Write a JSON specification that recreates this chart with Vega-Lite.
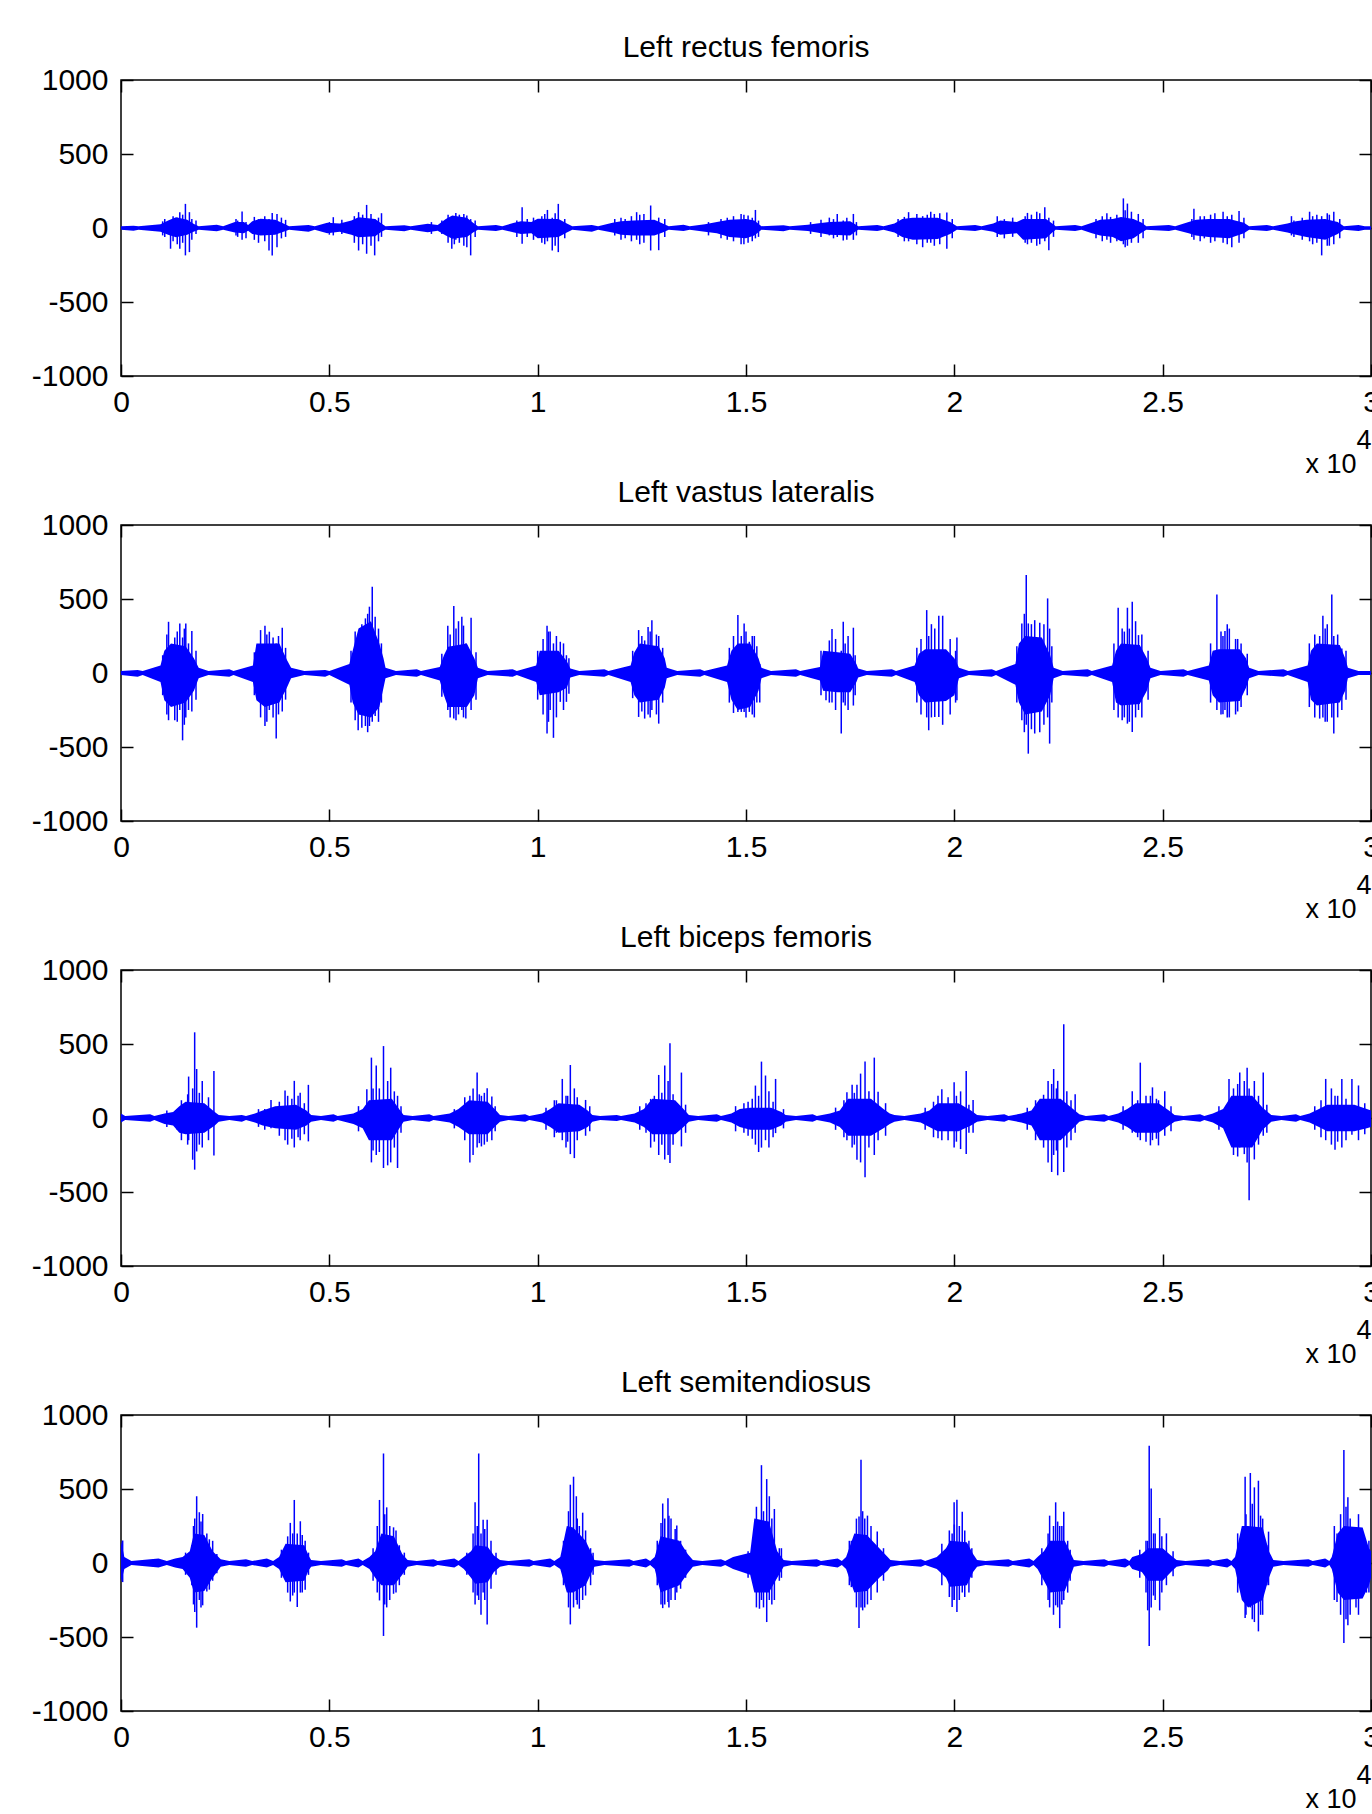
{
"$schema": "https://vega.github.io/schema/vega-lite/v6.json",
"padding": {"left": 30, "top": 32, "right": 0, "bottom": 0},
"background": "white",
"spacing": -1,
"config": {
  "font": "Liberation Sans",
  "view": {"stroke": "#000", "strokeWidth": 1.5},
  "axis": {"domain": false, "grid": false, "tickSize": -12, "tickColor": "#000", "tickWidth": 1.5, "labelFontSize": 30, "labelColor": "#000", "labelFont": "Liberation Sans", "labelFlush": false, "labelOverlap": false, "labelBound": false},
  "title": {"fontSize": 30, "fontWeight": "normal", "color": "#000", "font": "Liberation Sans", "anchor": "middle", "baseline": "alphabetic", "offset": 2}
},
"datasets": {
"a1": [{"t":0,"lo":-12,"hi":12},{"t":300,"lo":-18,"hi":16},{"t":420,"lo":-12,"hi":12},{"t":948,"lo":-25,"hi":25},{"t":1130,"lo":-45,"hi":50},{"t":1320,"lo":-62,"hi":73},{"t":1590,"lo":-45,"hi":55},{"t":1740,"lo":-25,"hi":28},{"t":1864,"lo":-12,"hi":12},{"t":2300,"lo":-22,"hi":22},{"t":2450,"lo":-12,"hi":12},{"t":2732,"lo":-30,"hi":40},{"t":2950,"lo":-35,"hi":40},{"t":3050,"lo":-18,"hi":20},{"t":3150,"lo":-40,"hi":45},{"t":3350,"lo":-50,"hi":62},{"t":3700,"lo":-45,"hi":55},{"t":3900,"lo":-25,"hi":30},{"t":4034,"lo":-12,"hi":12},{"t":4500,"lo":-25,"hi":20},{"t":4650,"lo":-12,"hi":12},{"t":4950,"lo":-35,"hi":35},{"t":5250,"lo":-25,"hi":30},{"t":5530,"lo":-45,"hi":50},{"t":5700,"lo":-62,"hi":73},{"t":6100,"lo":-55,"hi":60},{"t":6250,"lo":-25,"hi":30},{"t":6348,"lo":-12,"hi":12},{"t":6800,"lo":-22,"hi":18},{"t":6950,"lo":-12,"hi":12},{"t":7361,"lo":-28,"hi":28},{"t":7600,"lo":-18,"hi":20},{"t":7795,"lo":-50,"hi":60},{"t":7950,"lo":-73,"hi":84},{"t":8300,"lo":-60,"hi":70},{"t":8450,"lo":-30,"hi":35},{"t":8566,"lo":-12,"hi":12},{"t":9000,"lo":-20,"hi":20},{"t":9150,"lo":-12,"hi":12},{"t":9434,"lo":-30,"hi":35},{"t":9600,"lo":-40,"hi":45},{"t":9850,"lo":-35,"hi":40},{"t":10000,"lo":-70,"hi":62},{"t":10500,"lo":-60,"hi":60},{"t":10700,"lo":-30,"hi":30},{"t":10832,"lo":-12,"hi":12},{"t":11300,"lo":-25,"hi":20},{"t":11450,"lo":-12,"hi":12},{"t":11796,"lo":-30,"hi":35},{"t":12000,"lo":-45,"hi":45},{"t":12300,"lo":-50,"hi":50},{"t":12800,"lo":-50,"hi":55},{"t":13000,"lo":-30,"hi":30},{"t":13146,"lo":-12,"hi":12},{"t":13500,"lo":-20,"hi":22},{"t":13650,"lo":-12,"hi":12},{"t":14014,"lo":-25,"hi":25},{"t":14300,"lo":-35,"hi":40},{"t":14600,"lo":-60,"hi":55},{"t":15000,"lo":-70,"hi":60},{"t":15200,"lo":-50,"hi":50},{"t":15371,"lo":-12,"hi":12},{"t":15900,"lo":-22,"hi":18},{"t":16050,"lo":-12,"hi":12},{"t":16483,"lo":-20,"hi":22},{"t":16700,"lo":-30,"hi":30},{"t":17000,"lo":-45,"hi":40},{"t":17500,"lo":-50,"hi":45},{"t":17620,"lo":-25,"hi":25},{"t":17692,"lo":-12,"hi":12},{"t":18150,"lo":-20,"hi":20},{"t":18300,"lo":-12,"hi":12},{"t":18563,"lo":-30,"hi":30},{"t":18750,"lo":-60,"hi":60},{"t":19000,"lo":-80,"hi":70},{"t":19600,"lo":-75,"hi":70},{"t":19900,"lo":-40,"hi":40},{"t":20062,"lo":-12,"hi":12},{"t":20500,"lo":-20,"hi":20},{"t":20650,"lo":-12,"hi":12},{"t":20933,"lo":-25,"hi":30},{"t":21100,"lo":-45,"hi":50},{"t":21500,"lo":-35,"hi":40},{"t":21650,"lo":-80,"hi":60},{"t":22200,"lo":-70,"hi":60},{"t":22350,"lo":-30,"hi":30},{"t":22432,"lo":-12,"hi":12},{"t":22900,"lo":-20,"hi":20},{"t":23050,"lo":-12,"hi":12},{"t":23303,"lo":-35,"hi":35},{"t":23500,"lo":-50,"hi":55},{"t":23800,"lo":-60,"hi":60},{"t":24000,"lo":-90,"hi":75},{"t":24300,"lo":-70,"hi":60},{"t":24500,"lo":-30,"hi":35},{"t":24609,"lo":-12,"hi":12},{"t":25150,"lo":-20,"hi":20},{"t":25300,"lo":-12,"hi":12},{"t":25624,"lo":-35,"hi":40},{"t":25800,"lo":-50,"hi":55},{"t":26100,"lo":-60,"hi":60},{"t":26600,"lo":-70,"hi":60},{"t":26950,"lo":-35,"hi":35},{"t":27075,"lo":-12,"hi":12},{"t":27500,"lo":-20,"hi":20},{"t":27650,"lo":-12,"hi":12},{"t":27994,"lo":-30,"hi":30},{"t":28200,"lo":-45,"hi":45},{"t":28450,"lo":-60,"hi":55},{"t":28900,"lo":-80,"hi":60},{"t":29200,"lo":-40,"hi":40},{"t":29349,"lo":-12,"hi":12},{"t":29700,"lo":-20,"hi":20},{"t":29850,"lo":-12,"hi":12},{"t":30000,"lo":-12,"hi":12}],
"s1": [{"t":1050,"lo":-60,"hi":60},{"t":1189,"lo":-140,"hi":40},{"t":1411,"lo":-140,"hi":107},{"t":1480,"lo":-100,"hi":90},{"t":1546,"lo":-185,"hi":163},{"t":1642,"lo":-163,"hi":107},{"t":2800,"lo":-60,"hi":50},{"t":2906,"lo":-80,"hi":111},{"t":3450,"lo":-90,"hi":80},{"t":3552,"lo":-152,"hi":60},{"t":3629,"lo":-185,"hi":102},{"t":3744,"lo":-130,"hi":95},{"t":3850,"lo":-70,"hi":70},{"t":5095,"lo":-50,"hi":73},{"t":5702,"lo":-152,"hi":107},{"t":5800,"lo":-110,"hi":90},{"t":5895,"lo":-174,"hi":156},{"t":6088,"lo":-185,"hi":60},{"t":6252,"lo":-60,"hi":100},{"t":7450,"lo":-40,"hi":40},{"t":7939,"lo":-140,"hi":70},{"t":8036,"lo":-80,"hi":102},{"t":8120,"lo":-100,"hi":90},{"t":8228,"lo":-120,"hi":95},{"t":8392,"lo":-185,"hi":60},{"t":9627,"lo":-107,"hi":140},{"t":9750,"lo":-60,"hi":60},{"t":10100,"lo":-100,"hi":80},{"t":10234,"lo":-90,"hi":122},{"t":10350,"lo":-152,"hi":70},{"t":10495,"lo":-163,"hi":163},{"t":12100,"lo":-70,"hi":60},{"t":12375,"lo":-80,"hi":107},{"t":12550,"lo":-100,"hi":95},{"t":12712,"lo":-152,"hi":152},{"t":12905,"lo":-150,"hi":70},{"t":14700,"lo":-90,"hi":80},{"t":14882,"lo":-110,"hi":95},{"t":15050,"lo":-100,"hi":85},{"t":15226,"lo":-70,"hi":122},{"t":17000,"lo":-50,"hi":70},{"t":17190,"lo":-60,"hi":95},{"t":17334,"lo":-85,"hi":50},{"t":17577,"lo":-80,"hi":95},{"t":18902,"lo":-90,"hi":107},{"t":19100,"lo":-110,"hi":95},{"t":19240,"lo":-130,"hi":80},{"t":19434,"lo":-100,"hi":110},{"t":19650,"lo":-110,"hi":100},{"t":19820,"lo":-140,"hi":105},{"t":21030,"lo":-60,"hi":80},{"t":21755,"lo":-110,"hi":102},{"t":21850,"lo":-100,"hi":90},{"t":21978,"lo":-120,"hi":110},{"t":22171,"lo":-90,"hi":140},{"t":22268,"lo":-150,"hi":70},{"t":23661,"lo":-80,"hi":100},{"t":23900,"lo":-90,"hi":90},{"t":24057,"lo":-110,"hi":200},{"t":24154,"lo":-120,"hi":165},{"t":24250,"lo":-100,"hi":110},{"t":24415,"lo":-100,"hi":95},{"t":25750,"lo":-80,"hi":130},{"t":26000,"lo":-70,"hi":80},{"t":26253,"lo":-90,"hi":100},{"t":26450,"lo":-100,"hi":110},{"t":26659,"lo":-130,"hi":90},{"t":26833,"lo":-100,"hi":115},{"t":28091,"lo":-50,"hi":80},{"t":28526,"lo":-90,"hi":110},{"t":28700,"lo":-100,"hi":90},{"t":28816,"lo":-185,"hi":80},{"t":28950,"lo":-120,"hi":100},{"t":29107,"lo":-110,"hi":110},
{"t":1000,"lo":-50,"hi":45},{"t":1250,"lo":-90,"hi":80},{"t":1350,"lo":-110,"hi":70},{"t":1700,"lo":-80,"hi":60},{"t":1800,"lo":-40,"hi":50},{"t":2760,"lo":-50,"hi":60},{"t":3000,"lo":-70,"hi":40},{"t":3200,"lo":-80,"hi":75},{"t":3300,"lo":-100,"hi":60},{"t":3950,"lo":-60,"hi":55},{"t":5000,"lo":-45,"hi":40},{"t":5300,"lo":-40,"hi":55},{"t":5600,"lo":-100,"hi":80},{"t":6000,"lo":-120,"hi":95},{"t":6180,"lo":-90,"hi":70},{"t":7700,"lo":-40,"hi":50},{"t":7850,"lo":-100,"hi":90},{"t":8000,"lo":-110,"hi":80},{"t":8300,"lo":-130,"hi":85},{"t":8500,"lo":-60,"hi":50},{"t":9500,"lo":-60,"hi":50},{"t":9900,"lo":-80,"hi":70},{"t":10170,"lo":-110,"hi":95},{"t":10420,"lo":-120,"hi":100},{"t":10650,"lo":-70,"hi":60},{"t":11850,"lo":-50,"hi":60},{"t":12000,"lo":-80,"hi":70},{"t":12250,"lo":-90,"hi":80},{"t":12450,"lo":-110,"hi":90},{"t":13050,"lo":-60,"hi":60},{"t":14100,"lo":-50,"hi":40},{"t":14400,"lo":-70,"hi":60},{"t":14550,"lo":-80,"hi":70},{"t":14950,"lo":-110,"hi":90},{"t":15150,"lo":-90,"hi":70},{"t":15300,"lo":-60,"hi":50},{"t":16550,"lo":-40,"hi":40},{"t":16800,"lo":-60,"hi":55},{"t":17100,"lo":-70,"hi":60},{"t":17420,"lo":-80,"hi":70},{"t":17650,"lo":-50,"hi":40},{"t":18650,"lo":-60,"hi":60},{"t":18800,"lo":-90,"hi":75},{"t":19350,"lo":-100,"hi":90},{"t":19520,"lo":-120,"hi":95},{"t":19950,"lo":-70,"hi":60},{"t":21200,"lo":-70,"hi":60},{"t":21400,"lo":-60,"hi":70},{"t":21700,"lo":-100,"hi":80},{"t":22050,"lo":-110,"hi":100},{"t":22380,"lo":-60,"hi":50},{"t":23400,"lo":-70,"hi":60},{"t":23550,"lo":-90,"hi":80},{"t":23750,"lo":-100,"hi":75},{"t":24100,"lo":-130,"hi":120},{"t":24530,"lo":-70,"hi":60},{"t":25700,"lo":-60,"hi":60},{"t":25900,"lo":-90,"hi":80},{"t":26150,"lo":-100,"hi":90},{"t":26550,"lo":-110,"hi":80},{"t":26950,"lo":-70,"hi":70},{"t":28150,"lo":-60,"hi":50},{"t":28350,"lo":-80,"hi":70},{"t":28600,"lo":-110,"hi":80},{"t":29000,"lo":-120,"hi":90},{"t":29250,"lo":-70,"hi":60}],
"a2": [{"t":0,"lo":-14,"hi":14},{"t":400,"lo":-25,"hi":20},{"t":520,"lo":-14,"hi":14},{"t":948,"lo":-60,"hi":50},{"t":1040,"lo":-184,"hi":150},{"t":1200,"lo":-230,"hi":200},{"t":1550,"lo":-200,"hi":180},{"t":1750,"lo":-120,"hi":100},{"t":1864,"lo":-35,"hi":35},{"t":2100,"lo":-14,"hi":14},{"t":2600,"lo":-25,"hi":25},{"t":2700,"lo":-14,"hi":14},{"t":3166,"lo":-60,"hi":50},{"t":3250,"lo":-184,"hi":200},{"t":3450,"lo":-230,"hi":200},{"t":3800,"lo":-200,"hi":200},{"t":3980,"lo":-100,"hi":90},{"t":4082,"lo":-35,"hi":35},{"t":4400,"lo":-14,"hi":14},{"t":4900,"lo":-25,"hi":20},{"t":5000,"lo":-14,"hi":14},{"t":5480,"lo":-80,"hi":60},{"t":5560,"lo":-200,"hi":150},{"t":5700,"lo":-280,"hi":300},{"t":6000,"lo":-300,"hi":350},{"t":6200,"lo":-230,"hi":200},{"t":6300,"lo":-100,"hi":100},{"t":6348,"lo":-35,"hi":35},{"t":6600,"lo":-14,"hi":14},{"t":7100,"lo":-25,"hi":25},{"t":7200,"lo":-14,"hi":14},{"t":7650,"lo":-50,"hi":40},{"t":7750,"lo":-150,"hi":120},{"t":7850,"lo":-229,"hi":177},{"t":8300,"lo":-229,"hi":200},{"t":8480,"lo":-150,"hi":100},{"t":8566,"lo":-35,"hi":35},{"t":8800,"lo":-14,"hi":14},{"t":9400,"lo":-25,"hi":25},{"t":9500,"lo":-14,"hi":14},{"t":9964,"lo":-60,"hi":50},{"t":10050,"lo":-150,"hi":150},{"t":10500,"lo":-130,"hi":150},{"t":10700,"lo":-100,"hi":80},{"t":10784,"lo":-30,"hi":30},{"t":11000,"lo":-14,"hi":14},{"t":11600,"lo":-25,"hi":25},{"t":11700,"lo":-14,"hi":14},{"t":12230,"lo":-60,"hi":50},{"t":12320,"lo":-150,"hi":140},{"t":12450,"lo":-200,"hi":200},{"t":12900,"lo":-180,"hi":180},{"t":13050,"lo":-100,"hi":100},{"t":13098,"lo":-35,"hi":35},{"t":13350,"lo":-14,"hi":14},{"t":13900,"lo":-25,"hi":25},{"t":14000,"lo":-14,"hi":14},{"t":14545,"lo":-60,"hi":50},{"t":14650,"lo":-180,"hi":150},{"t":14800,"lo":-250,"hi":200},{"t":15100,"lo":-230,"hi":200},{"t":15300,"lo":-120,"hi":100},{"t":15371,"lo":-35,"hi":35},{"t":15600,"lo":-14,"hi":14},{"t":16200,"lo":-25,"hi":25},{"t":16300,"lo":-14,"hi":14},{"t":16774,"lo":-50,"hi":40},{"t":16850,"lo":-120,"hi":150},{"t":17200,"lo":-130,"hi":140},{"t":17500,"lo":-130,"hi":130},{"t":17650,"lo":-60,"hi":60},{"t":17692,"lo":-30,"hi":30},{"t":17900,"lo":-14,"hi":14},{"t":18500,"lo":-25,"hi":25},{"t":18600,"lo":-14,"hi":14},{"t":19047,"lo":-60,"hi":50},{"t":19150,"lo":-150,"hi":130},{"t":19300,"lo":-200,"hi":160},{"t":19800,"lo":-190,"hi":160},{"t":20000,"lo":-150,"hi":100},{"t":20111,"lo":-35,"hi":35},{"t":20350,"lo":-14,"hi":14},{"t":20900,"lo":-25,"hi":25},{"t":21000,"lo":-14,"hi":14},{"t":21465,"lo":-80,"hi":60},{"t":21550,"lo":-200,"hi":200},{"t":21700,"lo":-280,"hi":250},{"t":22100,"lo":-260,"hi":240},{"t":22300,"lo":-150,"hi":120},{"t":22384,"lo":-35,"hi":35},{"t":22600,"lo":-14,"hi":14},{"t":23200,"lo":-25,"hi":25},{"t":23300,"lo":-14,"hi":14},{"t":23786,"lo":-60,"hi":50},{"t":23880,"lo":-200,"hi":150},{"t":24000,"lo":-220,"hi":200},{"t":24450,"lo":-210,"hi":190},{"t":24620,"lo":-120,"hi":100},{"t":24706,"lo":-35,"hi":35},{"t":24950,"lo":-14,"hi":14},{"t":25500,"lo":-25,"hi":25},{"t":25600,"lo":-14,"hi":14},{"t":26108,"lo":-50,"hi":50},{"t":26200,"lo":-150,"hi":150},{"t":26350,"lo":-200,"hi":160},{"t":26850,"lo":-190,"hi":160},{"t":27000,"lo":-100,"hi":100},{"t":27075,"lo":-35,"hi":35},{"t":27300,"lo":-14,"hi":14},{"t":27900,"lo":-25,"hi":25},{"t":28000,"lo":-14,"hi":14},{"t":28478,"lo":-60,"hi":50},{"t":28560,"lo":-180,"hi":150},{"t":28700,"lo":-220,"hi":200},{"t":29250,"lo":-200,"hi":190},{"t":29380,"lo":-120,"hi":100},{"t":29445,"lo":-35,"hi":35},{"t":29700,"lo":-14,"hi":14},{"t":30000,"lo":-14,"hi":14}],
"s2": [{"t":1141,"lo":-319,"hi":346},{"t":1290,"lo":-319,"hi":240},{"t":1411,"lo":-250,"hi":335},{"t":1478,"lo":-455,"hi":240},{"t":1555,"lo":-300,"hi":335},{"t":1620,"lo":-250,"hi":200},{"t":1700,"lo":-260,"hi":283},{"t":3262,"lo":-150,"hi":188},{"t":3455,"lo":-358,"hi":319},{"t":3560,"lo":-250,"hi":279},{"t":3650,"lo":-300,"hi":240},{"t":3725,"lo":-443,"hi":200},{"t":3870,"lo":-260,"hi":306},{"t":5692,"lo":-387,"hi":250},{"t":5866,"lo":-358,"hi":369},{"t":5962,"lo":-358,"hi":448},{"t":6030,"lo":-330,"hi":583},{"t":6100,"lo":-290,"hi":380},{"t":6250,"lo":-200,"hi":200},{"t":7843,"lo":-250,"hi":319},{"t":7987,"lo":-308,"hi":452},{"t":8100,"lo":-280,"hi":350},{"t":8180,"lo":-250,"hi":380},{"t":8276,"lo":-308,"hi":200},{"t":8402,"lo":-250,"hi":373},{"t":10225,"lo":-409,"hi":319},{"t":10300,"lo":-250,"hi":280},{"t":10379,"lo":-438,"hi":200},{"t":10450,"lo":-300,"hi":250},{"t":10543,"lo":-195,"hi":211},{"t":10690,"lo":-195,"hi":120},{"t":12423,"lo":-297,"hi":290},{"t":12568,"lo":-308,"hi":220},{"t":12650,"lo":-280,"hi":310},{"t":12741,"lo":-250,"hi":357},{"t":12905,"lo":-342,"hi":250},{"t":14805,"lo":-263,"hi":392},{"t":14887,"lo":-263,"hi":250},{"t":14955,"lo":-263,"hi":335},{"t":15080,"lo":-263,"hi":211},{"t":15200,"lo":-300,"hi":250},{"t":15330,"lo":-200,"hi":60},{"t":16920,"lo":-184,"hi":120},{"t":17064,"lo":-200,"hi":297},{"t":17286,"lo":-409,"hi":150},{"t":17334,"lo":-200,"hi":346},{"t":17450,"lo":-250,"hi":250},{"t":17577,"lo":-220,"hi":306},{"t":19337,"lo":-300,"hi":425},{"t":19385,"lo":-387,"hi":250},{"t":19530,"lo":-297,"hi":300},{"t":19627,"lo":-297,"hi":387},{"t":19720,"lo":-350,"hi":387},{"t":20062,"lo":-184,"hi":240},{"t":21620,"lo":-320,"hi":335},{"t":21726,"lo":-350,"hi":662},{"t":21775,"lo":-545,"hi":335},{"t":21929,"lo":-409,"hi":357},{"t":22050,"lo":-400,"hi":340},{"t":22239,"lo":-300,"hi":504},{"t":22287,"lo":-477,"hi":300},{"t":23932,"lo":-300,"hi":441},{"t":24028,"lo":-319,"hi":300},{"t":24154,"lo":-342,"hi":441},{"t":24270,"lo":-398,"hi":481},{"t":24350,"lo":-300,"hi":350},{"t":24420,"lo":-250,"hi":256},{"t":26301,"lo":-250,"hi":530},{"t":26447,"lo":-279,"hi":250},{"t":26495,"lo":-250,"hi":283},{"t":26600,"lo":-300,"hi":300},{"t":26750,"lo":-280,"hi":230},{"t":26882,"lo":-229,"hi":200},{"t":28768,"lo":-308,"hi":250},{"t":28845,"lo":-300,"hi":387},{"t":28950,"lo":-330,"hi":330},{"t":29059,"lo":-300,"hi":530},{"t":29107,"lo":-409,"hi":250},{"t":29300,"lo":-250,"hi":166},
{"t":1000,"lo":-150,"hi":120},{"t":1100,"lo":-280,"hi":260},{"t":1350,"lo":-330,"hi":280},{"t":1520,"lo":-350,"hi":300},{"t":1800,"lo":-180,"hi":150},{"t":3200,"lo":-150,"hi":140},{"t":3350,"lo":-300,"hi":290},{"t":3500,"lo":-330,"hi":260},{"t":3780,"lo":-280,"hi":250},{"t":3950,"lo":-180,"hi":170},{"t":5520,"lo":-200,"hi":150},{"t":5620,"lo":-320,"hi":280},{"t":5780,"lo":-370,"hi":330},{"t":5920,"lo":-400,"hi":400},{"t":6180,"lo":-330,"hi":300},{"t":7700,"lo":-160,"hi":130},{"t":7900,"lo":-300,"hi":260},{"t":8040,"lo":-320,"hi":300},{"t":8220,"lo":-300,"hi":320},{"t":8520,"lo":-180,"hi":140},{"t":10000,"lo":-180,"hi":150},{"t":10130,"lo":-280,"hi":230},{"t":10260,"lo":-330,"hi":280},{"t":10620,"lo":-250,"hi":200},{"t":10750,"lo":-140,"hi":100},{"t":12280,"lo":-170,"hi":150},{"t":12500,"lo":-260,"hi":250},{"t":12700,"lo":-300,"hi":280},{"t":12850,"lo":-280,"hi":260},{"t":13000,"lo":-200,"hi":170},{"t":14600,"lo":-200,"hi":170},{"t":14700,"lo":-270,"hi":250},{"t":15000,"lo":-300,"hi":280},{"t":15150,"lo":-280,"hi":250},{"t":15260,"lo":-200,"hi":180},{"t":16800,"lo":-150,"hi":150},{"t":17000,"lo":-200,"hi":220},{"t":17150,"lo":-250,"hi":230},{"t":17380,"lo":-220,"hi":200},{"t":17620,"lo":-150,"hi":120},{"t":19100,"lo":-200,"hi":170},{"t":19200,"lo":-280,"hi":230},{"t":19450,"lo":-300,"hi":330},{"t":19900,"lo":-280,"hi":230},{"t":20030,"lo":-200,"hi":150},{"t":21500,"lo":-200,"hi":180},{"t":21680,"lo":-400,"hi":400},{"t":21850,"lo":-380,"hi":330},{"t":22150,"lo":-350,"hi":330},{"t":22340,"lo":-200,"hi":180},{"t":23830,"lo":-250,"hi":200},{"t":24080,"lo":-300,"hi":280},{"t":24200,"lo":-330,"hi":300},{"t":24500,"lo":-300,"hi":260},{"t":24650,"lo":-180,"hi":150},{"t":26150,"lo":-200,"hi":200},{"t":26400,"lo":-280,"hi":280},{"t":26550,"lo":-300,"hi":330},{"t":26800,"lo":-260,"hi":230},{"t":27030,"lo":-150,"hi":130},{"t":28520,"lo":-230,"hi":200},{"t":28650,"lo":-300,"hi":260},{"t":28900,"lo":-330,"hi":300},{"t":29200,"lo":-300,"hi":260},{"t":29400,"lo":-180,"hi":150}],
"a3": [{"t":0,"lo":-30,"hi":30},{"t":100,"lo":-14,"hi":14},{"t":700,"lo":-25,"hi":25},{"t":800,"lo":-14,"hi":14},{"t":1044,"lo":-40,"hi":30},{"t":1250,"lo":-50,"hi":40},{"t":1400,"lo":-100,"hi":80},{"t":1550,"lo":-110,"hi":110},{"t":2000,"lo":-100,"hi":100},{"t":2250,"lo":-50,"hi":40},{"t":2346,"lo":-25,"hi":20},{"t":2600,"lo":-14,"hi":14},{"t":2900,"lo":-25,"hi":20},{"t":3000,"lo":-14,"hi":14},{"t":3214,"lo":-30,"hi":30},{"t":3400,"lo":-50,"hi":50},{"t":3700,"lo":-70,"hi":80},{"t":4200,"lo":-80,"hi":90},{"t":4450,"lo":-50,"hi":50},{"t":4564,"lo":-25,"hi":20},{"t":4800,"lo":-14,"hi":14},{"t":5100,"lo":-25,"hi":25},{"t":5200,"lo":-14,"hi":14},{"t":5577,"lo":-40,"hi":30},{"t":5800,"lo":-70,"hi":60},{"t":5950,"lo":-150,"hi":120},{"t":6500,"lo":-150,"hi":130},{"t":6700,"lo":-60,"hi":50},{"t":6782,"lo":-25,"hi":20},{"t":7000,"lo":-14,"hi":14},{"t":7400,"lo":-25,"hi":25},{"t":7500,"lo":-14,"hi":14},{"t":7891,"lo":-30,"hi":30},{"t":8100,"lo":-60,"hi":60},{"t":8350,"lo":-110,"hi":120},{"t":8800,"lo":-110,"hi":110},{"t":9000,"lo":-50,"hi":50},{"t":9096,"lo":-25,"hi":20},{"t":9300,"lo":-14,"hi":14},{"t":9700,"lo":-25,"hi":25},{"t":9800,"lo":-14,"hi":14},{"t":10109,"lo":-30,"hi":30},{"t":10300,"lo":-60,"hi":60},{"t":10500,"lo":-100,"hi":100},{"t":11000,"lo":-90,"hi":90},{"t":11200,"lo":-60,"hi":50},{"t":11314,"lo":-25,"hi":20},{"t":11500,"lo":-14,"hi":14},{"t":11900,"lo":-20,"hi":20},{"t":12000,"lo":-14,"hi":14},{"t":12327,"lo":-30,"hi":30},{"t":12550,"lo":-60,"hi":60},{"t":12750,"lo":-110,"hi":130},{"t":13300,"lo":-110,"hi":120},{"t":13500,"lo":-60,"hi":60},{"t":13629,"lo":-25,"hi":20},{"t":13850,"lo":-14,"hi":14},{"t":14300,"lo":-25,"hi":25},{"t":14400,"lo":-14,"hi":14},{"t":14650,"lo":-30,"hi":30},{"t":14850,"lo":-60,"hi":60},{"t":15100,"lo":-80,"hi":70},{"t":15600,"lo":-80,"hi":70},{"t":15850,"lo":-50,"hi":40},{"t":15951,"lo":-25,"hi":20},{"t":16200,"lo":-14,"hi":14},{"t":16600,"lo":-25,"hi":25},{"t":16700,"lo":-14,"hi":14},{"t":17015,"lo":-30,"hi":30},{"t":17250,"lo":-60,"hi":50},{"t":17450,"lo":-120,"hi":130},{"t":18000,"lo":-120,"hi":130},{"t":18300,"lo":-70,"hi":60},{"t":18450,"lo":-40,"hi":30},{"t":18563,"lo":-25,"hi":20},{"t":18800,"lo":-14,"hi":14},{"t":19192,"lo":-30,"hi":30},{"t":19400,"lo":-60,"hi":50},{"t":19600,"lo":-90,"hi":100},{"t":20100,"lo":-90,"hi":100},{"t":20400,"lo":-50,"hi":50},{"t":20546,"lo":-25,"hi":20},{"t":20800,"lo":-14,"hi":14},{"t":21200,"lo":-25,"hi":25},{"t":21300,"lo":-14,"hi":14},{"t":21610,"lo":-30,"hi":30},{"t":21850,"lo":-50,"hi":50},{"t":22050,"lo":-150,"hi":130},{"t":22550,"lo":-150,"hi":130},{"t":22850,"lo":-70,"hi":60},{"t":23000,"lo":-25,"hi":25},{"t":23158,"lo":-14,"hi":14},{"t":23600,"lo":-25,"hi":25},{"t":23700,"lo":-14,"hi":14},{"t":23932,"lo":-30,"hi":30},{"t":24150,"lo":-60,"hi":60},{"t":24350,"lo":-100,"hi":100},{"t":24900,"lo":-100,"hi":100},{"t":25150,"lo":-50,"hi":50},{"t":25286,"lo":-25,"hi":20},{"t":25500,"lo":-14,"hi":14},{"t":25900,"lo":-25,"hi":25},{"t":26000,"lo":-14,"hi":14},{"t":26205,"lo":-30,"hi":30},{"t":26450,"lo":-70,"hi":60},{"t":26650,"lo":-200,"hi":150},{"t":27150,"lo":-200,"hi":150},{"t":27400,"lo":-80,"hi":70},{"t":27607,"lo":-25,"hi":20},{"t":27850,"lo":-14,"hi":14},{"t":28200,"lo":-25,"hi":25},{"t":28300,"lo":-14,"hi":14},{"t":28526,"lo":-30,"hi":30},{"t":28750,"lo":-60,"hi":60},{"t":28950,"lo":-90,"hi":90},{"t":29600,"lo":-90,"hi":90},{"t":29900,"lo":-70,"hi":60},{"t":30000,"lo":-60,"hi":50}],
"s3": [{"t":1350,"lo":-80,"hi":60},{"t":1623,"lo":-150,"hi":280},{"t":1720,"lo":-282,"hi":200},{"t":1768,"lo":-349,"hi":579},{"t":1816,"lo":-226,"hi":331},{"t":1950,"lo":-200,"hi":250},{"t":2230,"lo":-253,"hi":318},{"t":3450,"lo":-80,"hi":60},{"t":3600,"lo":-70,"hi":122},{"t":3937,"lo":-150,"hi":185},{"t":4000,"lo":-180,"hi":150},{"t":4159,"lo":-199,"hi":251},{"t":4300,"lo":-150,"hi":170},{"t":4497,"lo":-158,"hi":224},{"t":5900,"lo":-100,"hi":194},{"t":6010,"lo":-300,"hi":408},{"t":6126,"lo":-250,"hi":354},{"t":6300,"lo":-338,"hi":486},{"t":6400,"lo":-320,"hi":250},{"t":6473,"lo":-300,"hi":340},{"t":6637,"lo":-338,"hi":150},{"t":8373,"lo":-300,"hi":150},{"t":8450,"lo":-250,"hi":200},{"t":8547,"lo":-200,"hi":307},{"t":8650,"lo":-192,"hi":150},{"t":8788,"lo":-160,"hi":201},{"t":8900,"lo":-150,"hi":145},{"t":10450,"lo":-100,"hi":120},{"t":10591,"lo":-150,"hi":264},{"t":10680,"lo":-200,"hi":150},{"t":10784,"lo":-244,"hi":358},{"t":10880,"lo":-271,"hi":200},{"t":11150,"lo":-120,"hi":122},{"t":12600,"lo":-100,"hi":100},{"t":12712,"lo":-200,"hi":129},{"t":12905,"lo":-250,"hi":291},{"t":13050,"lo":-280,"hi":354},{"t":13130,"lo":-250,"hi":250},{"t":13175,"lo":-304,"hi":505},{"t":13450,"lo":-192,"hi":307},{"t":14950,"lo":-100,"hi":100},{"t":15226,"lo":-180,"hi":219},{"t":15303,"lo":-230,"hi":150},{"t":15371,"lo":-200,"hi":381},{"t":15468,"lo":-150,"hi":287},{"t":15550,"lo":-200,"hi":180},{"t":15710,"lo":-102,"hi":264},{"t":17422,"lo":-150,"hi":174},{"t":17547,"lo":-200,"hi":224},{"t":17663,"lo":-282,"hi":225},{"t":17750,"lo":-300,"hi":300},{"t":17857,"lo":-401,"hi":381},{"t":18079,"lo":-250,"hi":408},{"t":18170,"lo":-150,"hi":178},{"t":19608,"lo":-136,"hi":150},{"t":19700,"lo":-150,"hi":194},{"t":19995,"lo":-200,"hi":242},{"t":20150,"lo":-210,"hi":180},{"t":20285,"lo":-244,"hi":318},{"t":20450,"lo":-100,"hi":122},{"t":22142,"lo":-200,"hi":157},{"t":22250,"lo":-300,"hi":250},{"t":22336,"lo":-365,"hi":230},{"t":22384,"lo":-250,"hi":331},{"t":22481,"lo":-387,"hi":251},{"t":22626,"lo":-365,"hi":633},{"t":22900,"lo":-100,"hi":160},{"t":24270,"lo":-100,"hi":180},{"t":24463,"lo":-150,"hi":374},{"t":24706,"lo":-185,"hi":150},{"t":24755,"lo":-150,"hi":207},{"t":24900,"lo":-185,"hi":120},{"t":25050,"lo":-120,"hi":180},{"t":26592,"lo":-150,"hi":264},{"t":26850,"lo":-200,"hi":307},{"t":26959,"lo":-244,"hi":250},{"t":27027,"lo":-300,"hi":340},{"t":27075,"lo":-555,"hi":200},{"t":27200,"lo":-280,"hi":250},{"t":27414,"lo":-120,"hi":307},{"t":28913,"lo":-150,"hi":264},{"t":29050,"lo":-180,"hi":200},{"t":29136,"lo":-215,"hi":150},{"t":29300,"lo":-200,"hi":264},{"t":29542,"lo":-114,"hi":264},{"t":29700,"lo":-150,"hi":220},
{"t":1100,"lo":-60,"hi":50},{"t":1450,"lo":-150,"hi":120},{"t":1600,"lo":-180,"hi":160},{"t":1880,"lo":-180,"hi":170},{"t":2100,"lo":-150,"hi":140},{"t":3300,"lo":-60,"hi":60},{"t":3800,"lo":-120,"hi":110},{"t":4100,"lo":-140,"hi":130},{"t":4250,"lo":-130,"hi":150},{"t":4400,"lo":-110,"hi":100},{"t":5700,"lo":-90,"hi":80},{"t":6050,"lo":-220,"hi":200},{"t":6200,"lo":-230,"hi":200},{"t":6560,"lo":-200,"hi":180},{"t":6720,"lo":-100,"hi":80},{"t":8000,"lo":-70,"hi":60},{"t":8250,"lo":-150,"hi":140},{"t":8600,"lo":-170,"hi":160},{"t":8720,"lo":-180,"hi":170},{"t":8980,"lo":-90,"hi":80},{"t":10200,"lo":-80,"hi":70},{"t":10400,"lo":-130,"hi":120},{"t":10720,"lo":-160,"hi":150},{"t":10950,"lo":-150,"hi":140},{"t":11250,"lo":-90,"hi":80},{"t":12450,"lo":-80,"hi":80},{"t":12800,"lo":-160,"hi":150},{"t":12980,"lo":-180,"hi":170},{"t":13250,"lo":-180,"hi":160},{"t":13550,"lo":-100,"hi":90},{"t":14750,"lo":-90,"hi":80},{"t":15050,"lo":-120,"hi":110},{"t":15150,"lo":-140,"hi":130},{"t":15650,"lo":-130,"hi":110},{"t":15900,"lo":-70,"hi":60},{"t":17150,"lo":-80,"hi":70},{"t":17350,"lo":-130,"hi":120},{"t":17600,"lo":-180,"hi":170},{"t":17950,"lo":-200,"hi":180},{"t":18350,"lo":-120,"hi":100},{"t":19300,"lo":-80,"hi":70},{"t":19500,"lo":-130,"hi":110},{"t":19850,"lo":-150,"hi":140},{"t":20050,"lo":-160,"hi":150},{"t":20350,"lo":-100,"hi":90},{"t":21750,"lo":-80,"hi":70},{"t":21950,"lo":-150,"hi":120},{"t":22450,"lo":-220,"hi":200},{"t":22700,"lo":-200,"hi":180},{"t":22800,"lo":-150,"hi":120},{"t":24050,"lo":-80,"hi":80},{"t":24400,"lo":-130,"hi":120},{"t":24600,"lo":-160,"hi":150},{"t":24850,"lo":-140,"hi":130},{"t":25200,"lo":-90,"hi":80},{"t":26350,"lo":-80,"hi":80},{"t":26700,"lo":-250,"hi":200},{"t":26800,"lo":-260,"hi":230},{"t":27300,"lo":-180,"hi":150},{"t":27500,"lo":-100,"hi":90},{"t":28650,"lo":-80,"hi":80},{"t":28800,"lo":-130,"hi":120},{"t":29200,"lo":-160,"hi":150},{"t":29400,"lo":-150,"hi":130},{"t":29850,"lo":-110,"hi":100}],
"a4": [{"t":0,"lo":-130,"hi":150},{"t":80,"lo":-40,"hi":40},{"t":250,"lo":-14,"hi":14},{"t":900,"lo":-30,"hi":30},{"t":1100,"lo":-14,"hi":14},{"t":1300,"lo":-30,"hi":30},{"t":1478,"lo":-40,"hi":40},{"t":1650,"lo":-100,"hi":80},{"t":1750,"lo":-200,"hi":200},{"t":2000,"lo":-190,"hi":190},{"t":2200,"lo":-100,"hi":80},{"t":2394,"lo":-25,"hi":25},{"t":2600,"lo":-14,"hi":14},{"t":3000,"lo":-25,"hi":25},{"t":3150,"lo":-14,"hi":14},{"t":3500,"lo":-30,"hi":30},{"t":3650,"lo":-14,"hi":14},{"t":3793,"lo":-40,"hi":40},{"t":3950,"lo":-130,"hi":130},{"t":4400,"lo":-120,"hi":120},{"t":4500,"lo":-50,"hi":50},{"t":4564,"lo":-25,"hi":20},{"t":4800,"lo":-14,"hi":14},{"t":5300,"lo":-25,"hi":25},{"t":5400,"lo":-14,"hi":14},{"t":5700,"lo":-30,"hi":30},{"t":5800,"lo":-14,"hi":14},{"t":5962,"lo":-40,"hi":40},{"t":6100,"lo":-100,"hi":80},{"t":6250,"lo":-150,"hi":200},{"t":6550,"lo":-150,"hi":180},{"t":6750,"lo":-80,"hi":60},{"t":6878,"lo":-25,"hi":20},{"t":7100,"lo":-14,"hi":14},{"t":7500,"lo":-25,"hi":25},{"t":7600,"lo":-14,"hi":14},{"t":8000,"lo":-30,"hi":30},{"t":8100,"lo":-14,"hi":14},{"t":8228,"lo":-40,"hi":40},{"t":8400,"lo":-100,"hi":80},{"t":8500,"lo":-140,"hi":120},{"t":8800,"lo":-130,"hi":110},{"t":8950,"lo":-60,"hi":50},{"t":9096,"lo":-25,"hi":20},{"t":9300,"lo":-14,"hi":14},{"t":9800,"lo":-25,"hi":25},{"t":9900,"lo":-14,"hi":14},{"t":10300,"lo":-30,"hi":30},{"t":10400,"lo":-14,"hi":14},{"t":10543,"lo":-40,"hi":40},{"t":10700,"lo":-200,"hi":250},{"t":10850,"lo":-200,"hi":240},{"t":11150,"lo":-150,"hi":150},{"t":11300,"lo":-60,"hi":60},{"t":11362,"lo":-25,"hi":20},{"t":11600,"lo":-14,"hi":14},{"t":12200,"lo":-25,"hi":25},{"t":12300,"lo":-14,"hi":14},{"t":12600,"lo":-30,"hi":30},{"t":12700,"lo":-14,"hi":14},{"t":12809,"lo":-40,"hi":40},{"t":12950,"lo":-200,"hi":180},{"t":13400,"lo":-150,"hi":150},{"t":13600,"lo":-70,"hi":60},{"t":13725,"lo":-25,"hi":20},{"t":13950,"lo":-14,"hi":14},{"t":14400,"lo":-25,"hi":25},{"t":14500,"lo":-14,"hi":14},{"t":14689,"lo":-40,"hi":40},{"t":15100,"lo":-80,"hi":70},{"t":15200,"lo":-200,"hi":300},{"t":15550,"lo":-200,"hi":280},{"t":15750,"lo":-100,"hi":80},{"t":15903,"lo":-25,"hi":20},{"t":16100,"lo":-14,"hi":14},{"t":16700,"lo":-25,"hi":25},{"t":16800,"lo":-14,"hi":14},{"t":17200,"lo":-30,"hi":30},{"t":17300,"lo":-14,"hi":14},{"t":17402,"lo":-40,"hi":40},{"t":17600,"lo":-200,"hi":200},{"t":17900,"lo":-190,"hi":190},{"t":18200,"lo":-100,"hi":100},{"t":18400,"lo":-50,"hi":40},{"t":18466,"lo":-25,"hi":20},{"t":18700,"lo":-14,"hi":14},{"t":19200,"lo":-25,"hi":25},{"t":19300,"lo":-14,"hi":14},{"t":19579,"lo":-40,"hi":40},{"t":19800,"lo":-100,"hi":100},{"t":19900,"lo":-160,"hi":150},{"t":20300,"lo":-150,"hi":140},{"t":20450,"lo":-60,"hi":60},{"t":20546,"lo":-25,"hi":20},{"t":20750,"lo":-14,"hi":14},{"t":21300,"lo":-25,"hi":25},{"t":21400,"lo":-14,"hi":14},{"t":21800,"lo":-30,"hi":30},{"t":21900,"lo":-14,"hi":14},{"t":21997,"lo":-40,"hi":40},{"t":22150,"lo":-120,"hi":80},{"t":22300,"lo":-200,"hi":150},{"t":22650,"lo":-190,"hi":150},{"t":22800,"lo":-80,"hi":60},{"t":22868,"lo":-25,"hi":20},{"t":23100,"lo":-14,"hi":14},{"t":23600,"lo":-25,"hi":25},{"t":23700,"lo":-14,"hi":14},{"t":24100,"lo":-30,"hi":30},{"t":24200,"lo":-14,"hi":14},{"t":24270,"lo":-40,"hi":40},{"t":24500,"lo":-60,"hi":60},{"t":24650,"lo":-120,"hi":100},{"t":25000,"lo":-120,"hi":100},{"t":25200,"lo":-60,"hi":50},{"t":25334,"lo":-25,"hi":20},{"t":25550,"lo":-14,"hi":14},{"t":26100,"lo":-25,"hi":25},{"t":26200,"lo":-14,"hi":14},{"t":26550,"lo":-30,"hi":30},{"t":26650,"lo":-14,"hi":14},{"t":26737,"lo":-40,"hi":40},{"t":26900,"lo":-250,"hi":250},{"t":27050,"lo":-300,"hi":250},{"t":27400,"lo":-250,"hi":240},{"t":27550,"lo":-100,"hi":80},{"t":27656,"lo":-25,"hi":20},{"t":27900,"lo":-14,"hi":14},{"t":28500,"lo":-25,"hi":25},{"t":28600,"lo":-14,"hi":14},{"t":28900,"lo":-30,"hi":30},{"t":29000,"lo":-14,"hi":14},{"t":29058,"lo":-40,"hi":40},{"t":29200,"lo":-200,"hi":200},{"t":29350,"lo":-250,"hi":250},{"t":29800,"lo":-240,"hi":240},{"t":29950,"lo":-150,"hi":100},{"t":30000,"lo":-100,"hi":80}],
"s4": [{"t":40,"lo":-129,"hi":152},{"t":1700,"lo":-150,"hi":120},{"t":1770,"lo":-331,"hi":300},{"t":1816,"lo":-437,"hi":451},{"t":1880,"lo":-250,"hi":343},{"t":1960,"lo":-286,"hi":331},{"t":2060,"lo":-192,"hi":200},{"t":2200,"lo":-120,"hi":150},{"t":4063,"lo":-260,"hi":271},{"t":4159,"lo":-200,"hi":426},{"t":4230,"lo":-297,"hi":200},{"t":4304,"lo":-200,"hi":282},{"t":4420,"lo":-180,"hi":150},{"t":6204,"lo":-253,"hi":426},{"t":6300,"lo":-493,"hi":740},{"t":6377,"lo":-300,"hi":376},{"t":6450,"lo":-250,"hi":250},{"t":6541,"lo":-208,"hi":241},{"t":6680,"lo":-150,"hi":120},{"t":8498,"lo":-280,"hi":410},{"t":8585,"lo":-250,"hi":740},{"t":8640,"lo":-350,"hi":200},{"t":8691,"lo":-200,"hi":293},{"t":8788,"lo":-415,"hi":293},{"t":8880,"lo":-174,"hi":150},{"t":10784,"lo":-415,"hi":529},{"t":10861,"lo":-300,"hi":583},{"t":10928,"lo":-250,"hi":451},{"t":11000,"lo":-309,"hi":250},{"t":11080,"lo":-250,"hi":340},{"t":11270,"lo":-150,"hi":100},{"t":13001,"lo":-305,"hi":402},{"t":13050,"lo":-280,"hi":300},{"t":13127,"lo":-264,"hi":437},{"t":13200,"lo":-250,"hi":300},{"t":13339,"lo":-200,"hi":253},{"t":13430,"lo":-174,"hi":150},{"t":15323,"lo":-309,"hi":200},{"t":15371,"lo":-250,"hi":661},{"t":15497,"lo":-399,"hi":567},{"t":15560,"lo":-250,"hi":451},{"t":15681,"lo":-250,"hi":365},{"t":15850,"lo":-100,"hi":100},{"t":17528,"lo":-163,"hi":150},{"t":17712,"lo":-440,"hi":315},{"t":17760,"lo":-300,"hi":698},{"t":17850,"lo":-300,"hi":300},{"t":17915,"lo":-280,"hi":320},{"t":18150,"lo":-200,"hi":212},{"t":19947,"lo":-297,"hi":200},{"t":19995,"lo":-250,"hi":410},{"t":20062,"lo":-331,"hi":428},{"t":20120,"lo":-250,"hi":250},{"t":20190,"lo":-200,"hi":347},{"t":20350,"lo":-200,"hi":150},{"t":22287,"lo":-300,"hi":320},{"t":22380,"lo":-350,"hi":250},{"t":22432,"lo":-286,"hi":410},{"t":22529,"lo":-440,"hi":250},{"t":22626,"lo":-250,"hi":347},{"t":22720,"lo":-200,"hi":150},{"t":24640,"lo":-320,"hi":150},{"t":24677,"lo":-560,"hi":792},{"t":24725,"lo":-300,"hi":504},{"t":24820,"lo":-250,"hi":200},{"t":24928,"lo":-320,"hi":304},{"t":25090,"lo":-150,"hi":200},{"t":26979,"lo":-372,"hi":583},{"t":27104,"lo":-300,"hi":608},{"t":27201,"lo":-399,"hi":511},{"t":27298,"lo":-462,"hi":556},{"t":27400,"lo":-350,"hi":300},{"t":27541,"lo":-150,"hi":212},{"t":29184,"lo":-264,"hi":200},{"t":29349,"lo":-541,"hi":763},{"t":29445,"lo":-421,"hi":444},{"t":29500,"lo":-350,"hi":300},{"t":29640,"lo":-300,"hi":197},{"t":29890,"lo":-200,"hi":117},
{"t":1550,"lo":-80,"hi":70},{"t":1740,"lo":-280,"hi":250},{"t":1920,"lo":-300,"hi":280},{"t":2120,"lo":-180,"hi":160},{"t":2300,"lo":-70,"hi":60},{"t":3850,"lo":-100,"hi":90},{"t":4000,"lo":-200,"hi":180},{"t":4120,"lo":-220,"hi":200},{"t":4350,"lo":-200,"hi":190},{"t":4500,"lo":-80,"hi":70},{"t":6050,"lo":-120,"hi":100},{"t":6150,"lo":-200,"hi":250},{"t":6330,"lo":-280,"hi":330},{"t":6600,"lo":-200,"hi":220},{"t":6800,"lo":-80,"hi":70},{"t":8300,"lo":-80,"hi":70},{"t":8450,"lo":-200,"hi":200},{"t":8550,"lo":-220,"hi":250},{"t":8730,"lo":-250,"hi":230},{"t":9000,"lo":-80,"hi":70},{"t":10620,"lo":-150,"hi":150},{"t":10740,"lo":-300,"hi":350},{"t":10950,"lo":-280,"hi":300},{"t":11150,"lo":-220,"hi":220},{"t":11330,"lo":-80,"hi":70},{"t":12870,"lo":-150,"hi":150},{"t":12960,"lo":-280,"hi":270},{"t":13150,"lo":-300,"hi":320},{"t":13300,"lo":-250,"hi":230},{"t":13550,"lo":-100,"hi":90},{"t":15050,"lo":-100,"hi":80},{"t":15250,"lo":-300,"hi":380},{"t":15420,"lo":-300,"hi":350},{"t":15620,"lo":-280,"hi":300},{"t":15800,"lo":-120,"hi":100},{"t":17480,"lo":-150,"hi":150},{"t":17650,"lo":-300,"hi":300},{"t":17800,"lo":-320,"hi":350},{"t":18000,"lo":-250,"hi":250},{"t":18300,"lo":-120,"hi":100},{"t":19700,"lo":-150,"hi":130},{"t":19880,"lo":-230,"hi":220},{"t":20000,"lo":-250,"hi":260},{"t":20250,"lo":-230,"hi":220},{"t":20420,"lo":-100,"hi":100},{"t":22100,"lo":-150,"hi":100},{"t":22250,"lo":-250,"hi":200},{"t":22480,"lo":-300,"hi":280},{"t":22580,"lo":-280,"hi":250},{"t":22780,"lo":-120,"hi":90},{"t":24450,"lo":-100,"hi":90},{"t":24600,"lo":-200,"hi":150},{"t":24780,"lo":-220,"hi":200},{"t":24980,"lo":-200,"hi":180},{"t":25250,"lo":-90,"hi":80},{"t":26800,"lo":-200,"hi":200},{"t":27000,"lo":-350,"hi":330},{"t":27150,"lo":-380,"hi":400},{"t":27350,"lo":-350,"hi":320},{"t":27500,"lo":-150,"hi":120},{"t":29120,"lo":-250,"hi":250},{"t":29270,"lo":-350,"hi":330},{"t":29400,"lo":-380,"hi":380},{"t":29700,"lo":-350,"hi":330},{"t":29950,"lo":-200,"hi":150}]
},
"vconcat": [
{"title": {"text": "Left rectus femoris"}, "width": 1250, "height": 296,
 "layer": [
  {"data": {"name": "a1"}, "mark": {"type": "area", "interpolate": "linear", "color": "#0000ff"},
   "encoding": {"x": {"field": "t", "type": "quantitative", "scale": {"domain": [0, 30000], "nice": false}, "axis": {"orient": "bottom", "values": [0,5000,10000,15000,20000,25000,30000], "labelExpr": "format(datum.value/10000, '~g')", "labelPadding": 23, "title": ["4", "x 10\u00a0\u00a0\u200b"], "titleFontSize": 27, "titleFontWeight": "normal", "titleColor": "#000", "titleX": 1250, "titleY": 72, "titleAlign": "right", "titleBaseline": "alphabetic", "titleLineHeight": 24, "titleAngle": 0}},
    "y": {"field": "lo", "type": "quantitative", "scale": {"domain": [-1000, 1000], "nice": false}, "axis": {"orient": "left", "values": [-1000,-500,0,500,1000], "labelExpr": "'' + datum.value", "labelPadding": 25, "title": null}},
    "y2": {"field": "hi"}}},
  {"data": {"name": "s1"}, "mark": {"type": "rule", "color": "#0000ff", "strokeWidth": 1.5},
   "encoding": {"x": {"field": "t", "type": "quantitative", "scale": {"domain": [0, 30000], "nice": false}, "axis": {"orient": "top", "values": [0,5000,10000,15000,20000,25000,30000], "labels": false, "title": null}},
    "y": {"field": "lo", "type": "quantitative", "scale": {"domain": [-1000, 1000], "nice": false}, "axis": {"orient": "right", "values": [-1000,-500,0,500,1000], "labels": false, "title": null}},
    "y2": {"field": "hi"}}}
 ],
 "resolve": {"axis": {"x": "independent", "y": "independent"}}},
{"title": {"text": "Left vastus lateralis"}, "width": 1250, "height": 296,
 "layer": [
  {"data": {"name": "a2"}, "mark": {"type": "area", "interpolate": "linear", "color": "#0000ff"},
   "encoding": {"x": {"field": "t", "type": "quantitative", "scale": {"domain": [0, 30000], "nice": false}, "axis": {"orient": "bottom", "values": [0,5000,10000,15000,20000,25000,30000], "labelExpr": "format(datum.value/10000, '~g')", "labelPadding": 23, "title": ["4", "x 10\u00a0\u00a0\u200b"], "titleFontSize": 27, "titleFontWeight": "normal", "titleColor": "#000", "titleX": 1250, "titleY": 72, "titleAlign": "right", "titleBaseline": "alphabetic", "titleLineHeight": 24, "titleAngle": 0}},
    "y": {"field": "lo", "type": "quantitative", "scale": {"domain": [-1000, 1000], "nice": false}, "axis": {"orient": "left", "values": [-1000,-500,0,500,1000], "labelExpr": "'' + datum.value", "labelPadding": 25, "title": null}},
    "y2": {"field": "hi"}}},
  {"data": {"name": "s2"}, "mark": {"type": "rule", "color": "#0000ff", "strokeWidth": 1.5},
   "encoding": {"x": {"field": "t", "type": "quantitative", "scale": {"domain": [0, 30000], "nice": false}, "axis": {"orient": "top", "values": [0,5000,10000,15000,20000,25000,30000], "labels": false, "title": null}},
    "y": {"field": "lo", "type": "quantitative", "scale": {"domain": [-1000, 1000], "nice": false}, "axis": {"orient": "right", "values": [-1000,-500,0,500,1000], "labels": false, "title": null}},
    "y2": {"field": "hi"}}}
 ],
 "resolve": {"axis": {"x": "independent", "y": "independent"}}},
{"title": {"text": "Left biceps femoris"}, "width": 1250, "height": 296,
 "layer": [
  {"data": {"name": "a3"}, "mark": {"type": "area", "interpolate": "linear", "color": "#0000ff"},
   "encoding": {"x": {"field": "t", "type": "quantitative", "scale": {"domain": [0, 30000], "nice": false}, "axis": {"orient": "bottom", "values": [0,5000,10000,15000,20000,25000,30000], "labelExpr": "format(datum.value/10000, '~g')", "labelPadding": 23, "title": ["4", "x 10\u00a0\u00a0\u200b"], "titleFontSize": 27, "titleFontWeight": "normal", "titleColor": "#000", "titleX": 1250, "titleY": 72, "titleAlign": "right", "titleBaseline": "alphabetic", "titleLineHeight": 24, "titleAngle": 0}},
    "y": {"field": "lo", "type": "quantitative", "scale": {"domain": [-1000, 1000], "nice": false}, "axis": {"orient": "left", "values": [-1000,-500,0,500,1000], "labelExpr": "'' + datum.value", "labelPadding": 25, "title": null}},
    "y2": {"field": "hi"}}},
  {"data": {"name": "s3"}, "mark": {"type": "rule", "color": "#0000ff", "strokeWidth": 1.5},
   "encoding": {"x": {"field": "t", "type": "quantitative", "scale": {"domain": [0, 30000], "nice": false}, "axis": {"orient": "top", "values": [0,5000,10000,15000,20000,25000,30000], "labels": false, "title": null}},
    "y": {"field": "lo", "type": "quantitative", "scale": {"domain": [-1000, 1000], "nice": false}, "axis": {"orient": "right", "values": [-1000,-500,0,500,1000], "labels": false, "title": null}},
    "y2": {"field": "hi"}}}
 ],
 "resolve": {"axis": {"x": "independent", "y": "independent"}}},
{"title": {"text": "Left semitendiosus"}, "width": 1250, "height": 296,
 "layer": [
  {"data": {"name": "a4"}, "mark": {"type": "area", "interpolate": "linear", "color": "#0000ff"},
   "encoding": {"x": {"field": "t", "type": "quantitative", "scale": {"domain": [0, 30000], "nice": false}, "axis": {"orient": "bottom", "values": [0,5000,10000,15000,20000,25000,30000], "labelExpr": "format(datum.value/10000, '~g')", "labelPadding": 23, "title": ["4", "x 10\u00a0\u00a0\u200b"], "titleFontSize": 27, "titleFontWeight": "normal", "titleColor": "#000", "titleX": 1250, "titleY": 72, "titleAlign": "right", "titleBaseline": "alphabetic", "titleLineHeight": 24, "titleAngle": 0}},
    "y": {"field": "lo", "type": "quantitative", "scale": {"domain": [-1000, 1000], "nice": false}, "axis": {"orient": "left", "values": [-1000,-500,0,500,1000], "labelExpr": "'' + datum.value", "labelPadding": 25, "title": null}},
    "y2": {"field": "hi"}}},
  {"data": {"name": "s4"}, "mark": {"type": "rule", "color": "#0000ff", "strokeWidth": 1.5},
   "encoding": {"x": {"field": "t", "type": "quantitative", "scale": {"domain": [0, 30000], "nice": false}, "axis": {"orient": "top", "values": [0,5000,10000,15000,20000,25000,30000], "labels": false, "title": null}},
    "y": {"field": "lo", "type": "quantitative", "scale": {"domain": [-1000, 1000], "nice": false}, "axis": {"orient": "right", "values": [-1000,-500,0,500,1000], "labels": false, "title": null}},
    "y2": {"field": "hi"}}}
 ],
 "resolve": {"axis": {"x": "independent", "y": "independent"}}}
]
}
